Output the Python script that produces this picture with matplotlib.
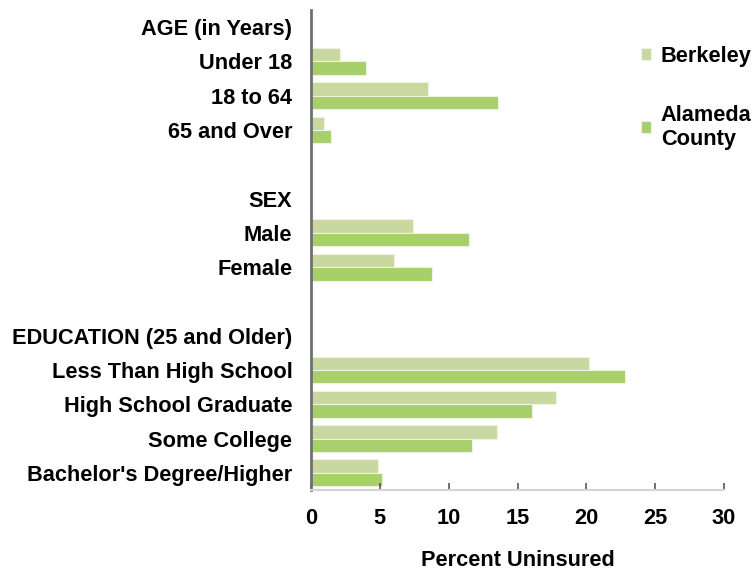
import matplotlib
matplotlib.use("Agg")
import matplotlib.pyplot as plt
import numpy as np

# rows top to bottom; None marks a header / spacer row with no bars
row_labels = ["AGE (in Years)", "Under 18", "18 to 64", "65 and Over", "",
              "SEX", "Male", "Female", "",
              "EDUCATION (25 and Older)", "Less Than High School",
              "High School Graduate", "Some College", "Bachelor's Degree/Higher"]
berkeley = [None, 2.1, 8.5, 0.95, None, None, 7.4, 6.0, None, None,
            20.2, 17.8, 13.5, 4.9]
alameda = [None, 4.0, 13.6, 1.45, None, None, 11.5, 8.8, None, None,
           22.8, 16.05, 11.7, 5.15]
series_names = ["Berkeley", "Alameda\nCounty"]
colors = ["#c8d8a0", "#a7cf6a"]

plt.rcParams["font.family"] = ["Liberation Sans", "DejaVu Sans"]
plt.rcParams["font.weight"] = "bold"
fs = 15.7

fig = plt.figure(figsize=(7.53, 5.70), dpi=100)
ax = fig.add_axes([311 / 753, 80 / 570, 413 / 753, 480 / 570])

n = len(row_labels)
y = np.arange(n)
h = 0.39
mask = [v is not None for v in berkeley]
yb = y[mask]
ax.barh(yb - h / 2, [v for v in berkeley if v is not None], height=h,
        color=colors[0], edgecolor="#eef3e2", linewidth=0.8, label=series_names[0])
ax.barh(yb + h / 2, [v for v in alameda if v is not None], height=h,
        color=colors[1], edgecolor="#eef3e2", linewidth=0.8, label=series_names[1])

ax.set_ylim(n - 0.5, -0.5)
ax.set_yticks(y)
ax.set_yticklabels(row_labels, fontsize=fs, fontweight="bold")
ax.tick_params(axis="y", length=0, pad=13.5)

ax.set_xlim(0, 30)
ax.set_xticks(range(0, 31, 5))
ax.tick_params(axis="x", direction="in", length=5, width=1.2, color="#555555",
               labelsize=fs, pad=13)
for lab in ax.get_xticklabels():
    lab.set_fontweight("bold")
ax.set_xlabel("Percent Uninsured", fontsize=fs, fontweight="bold", labelpad=15)

for s in ["top", "right"]:
    ax.spines[s].set_visible(False)
ax.spines["left"].set_color("#707070")
ax.spines["left"].set_linewidth(2)
ax.spines["bottom"].set_color("#d4d4d4")
ax.spines["bottom"].set_linewidth(1.5)

ax.legend(loc="upper left", bbox_to_anchor=(641 / 753, 1 - 46 / 570),
          bbox_transform=fig.transFigure, frameon=False,
          prop={"size": fs, "weight": "bold"}, handlelength=0.45,
          handleheight=0.45, handletextpad=0.45, labelspacing=1.72,
          borderaxespad=0, borderpad=0)

fig.savefig("out.png", dpi=100)
